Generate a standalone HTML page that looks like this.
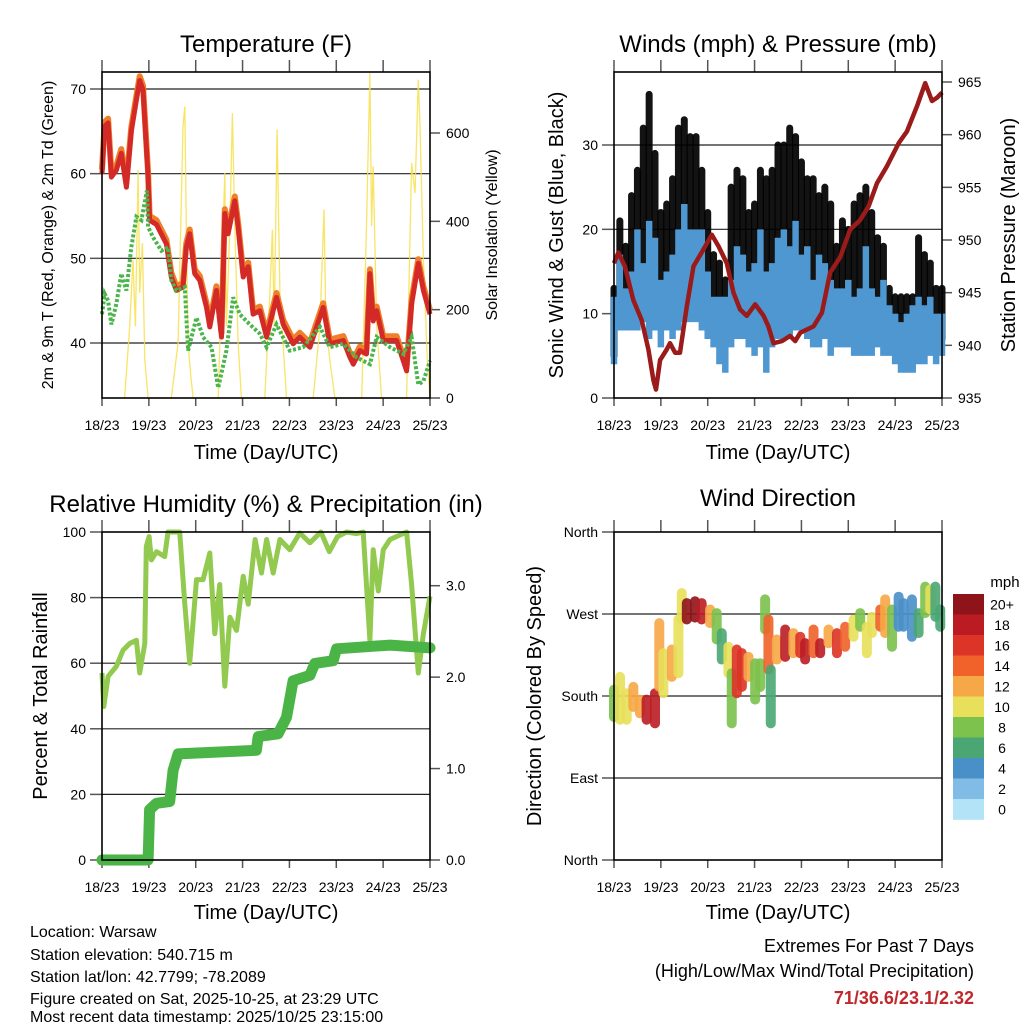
<!DOCTYPE html>
<html><head><meta charset="utf-8">
<style>
body{margin:0;background:#fff;width:1024px;height:1024px;overflow:hidden;font-family:"Liberation Sans",sans-serif}
svg text{font-family:"Liberation Sans",sans-serif;fill:#000}
</style></head>
<body>
<svg id="s" width="1024" height="1024" viewBox="0 0 1024 1024">
<g id="texts">
<text x="266" y="52" font-size="24" text-anchor="middle">Temperature (F)</text>
<text transform="translate(53,235) rotate(-90)" font-size="16" text-anchor="middle">2m &amp; 9m T (Red, Orange) &amp; 2m Td (Green)</text>
<text transform="translate(497,235) rotate(-90)" font-size="16" text-anchor="middle">Solar Insolation (Yellow)</text>
<text x="266" y="459" font-size="20" text-anchor="middle">Time (Day/UTC)</text>
<text x="778" y="52" font-size="24" text-anchor="middle">Winds (mph) &amp; Pressure (mb)</text>
<text transform="translate(563,235) rotate(-90)" font-size="20" text-anchor="middle">Sonic Wind &amp; Gust (Blue, Black)</text>
<text transform="translate(1015,235) rotate(-90)" font-size="20" text-anchor="middle">Station Pressure (Maroon)</text>
<text x="778" y="459" font-size="20" text-anchor="middle">Time (Day/UTC)</text>
<text x="266" y="512" font-size="24" text-anchor="middle">Relative Humidity (%) &amp; Precipitation (in)</text>
<text transform="translate(47,696) rotate(-90)" font-size="20" text-anchor="middle">Percent &amp; Total Rainfall</text>
<text x="266" y="919" font-size="20" text-anchor="middle">Time (Day/UTC)</text>
<text x="778" y="506" font-size="24" text-anchor="middle">Wind Direction</text>
<text transform="translate(541,696) rotate(-90)" font-size="20" text-anchor="middle">Direction (Colored By Speed)</text>
<text x="778" y="919" font-size="20" text-anchor="middle">Time (Day/UTC)</text>
<text x="1005" y="587" font-size="15" text-anchor="middle">mph</text>
<g font-size="16">
<text x="30" y="937">Location: Warsaw</text>
<text x="30" y="960">Station elevation: 540.715 m</text>
<text x="30" y="982">Station lat/lon: 42.7799; -78.2089</text>
<text x="30" y="1004">Figure created on Sat, 2025-10-25, at 23:29 UTC</text>
<text x="30" y="1022">Most recent data timestamp: 2025/10/25 23:15:00</text>
</g>
<g font-size="18" text-anchor="end">
<text x="974" y="952">Extremes For Past 7 Days</text>
<text x="974" y="977">(High/Low/Max Wind/Total Precipitation)</text>
<text x="974" y="1004" font-weight="bold" style="fill:#c0282d">71/36.6/23.1/2.32</text>
</g>
</g>
</svg>
<script>
// ---- data ----
const dayLabels=["18/23","19/23","20/23","21/23","22/23","23/23","24/23","25/23"];
const tempHours=[0,1.4,3.1,4.8,7.3,9.9,12.5,15,17.6,19.3,21,23.6,24.4,27.9,33,35.5,38.1,41.5,43.2,44.9,47.5,50.1,53.5,55.2,58.6,61.2,62.9,64.6,68,69.7,72.3,74.9,77.4,80.8,84.3,89.4,92.8,97.9,101.3,106.5,109.9,113.3,116.7,123.6,127,128.7,132.1,135.5,137.2,138.9,140.7,144.1,150.9,156,158.6,162,164.6,168];
const tempVals=[60,65.6,66,59.6,60.4,62.4,58.4,65,68.7,71,69.9,59.6,54.5,54,51.7,47.8,46.2,46.6,51.3,52.9,48.2,47.4,44.2,41.9,46.2,40.7,55.3,52.9,56.8,53.7,47.8,49,43.4,43.8,40.7,45.4,42.2,39.9,40.7,39.5,41.9,44.2,39.9,40.3,38.3,37.5,39.1,38.7,48.2,42.6,43.8,40.3,40.3,36.7,44.6,49.4,46.2,43.4];
const tdHours=[0,1.4,3.1,4.8,7.3,9.9,12.5,15,17.6,20.2,23,23.6,26.1,30.4,33.8,35.5,38.1,42.4,44.1,48.4,51.8,56.1,59.5,63.7,67.2,70.6,75.7,80.8,84.3,89.4,96.2,103,111.6,116.7,123.6,130.4,137.2,140.7,147.5,154.3,158.6,162,164.6,168];
const tdVals=[43.4,45.8,45,42.2,44.6,48.2,46.2,51.3,54.9,54.5,58,53.7,52.5,50.9,51.3,47.4,46.2,46.6,39.1,43,40.7,39.5,34.7,39.1,45.4,43.4,42.2,41.1,39.5,42.2,39.1,39.5,41.9,39.5,39.9,38.3,37.5,40.7,39.5,38.7,40.7,35.1,35.5,37.9];
const solarHours=[11.6,14.2,15.9,17.1,18.5,19.3,20.7,21.9,23.6, 35.5,39,41.5,42.4,43.2,44.1,45.5,46.7, 59.5,62.9,63.7,65.5,66.8,68,69.7,71.4, 83.4,86,87.3,88.2,89.7,91.1,94.5, 108.2,111.6,113.7,114.7,116.7,119.3, 133,135.5,137.2,138.1,138.9,140.7,143.2, 156,158.6,160.3,162,162.9,164.6,166.6,168];
const solarVals=[0,162,313,162,517,238,351,87,0, 0,125,615,660,389,125,49,0, 0,510,162,389,645,389,125,0, 0,238,381,162,608,238,0, 0,162,427,162,87,0, 0,389,736,389,525,162,0, 0,532,464,721,615,313,87,0];
const windHours=[0,3,6,9,12,15,18,21,24,27,30,33,36,39,42,45,48,51,54,57,60,63,66,69,72,75,78,81,84,87,90,93,96,99,102,105,108,111,114,117,120,123,126,129,132,135,138,141,144,147,150,153,156,159,162,165,168];
const windMax=[12,17,13,15,20,16,21,19,14,15,17,20,23,20,20,20,15,12,12,12,14,18,17,15,16,20,15,16,19,20,18,21,17,18,14,17,16,14,13,13,14,12,13,18,13,12,14,11,10,9,10,11,12,11,12,10,10];
const windMin=[4,8,8,8,8,9,7,8,6,8,7,8,9,9,9,8,7,6,4,3,6,7,7,6,5,6,3,6,7,7,7,8,8,7,6,6,7,5,6,6,6,5,5,5,5,6,5,5,4,3,3,3,4,4,5,4,5];
const gustMax=[13,21,18,24,27,32,36,29,22,23,26,32,33,31,31,27,22,17,16,14,25,27,26,22,23,27,26,27,30,30,32,31,28,26,26,24,25,23,18,21,20,23,24,25,22,19,18,13,12,12,12,12,19,17,16,13,13];
const gustMin=[5,11,12,12,14,15,14,12,12,12,12,15,16,17,17,14,12,9,9,10,11,12,12,10,11,12,11,12,14,14,13,14,13,12,12,11,12,11,10,11,11,10,10,11,10,10,10,9,7,7,7,7,8,9,9,8,7];
const presHours=[0,2.2,5.6,9.9,14.2,17.6,20.2,21.5,23.6,27,28.7,31.3,33.8,37.3,40.7,45.8,50.1,53.5,57.8,61.2,64.6,68,72.3,76.6,79.1,81.7,86,90.2,92.8,95.4,102.2,106.5,110.7,115.9,121,126.1,130.4,134.7,139.8,145.8,150,155.2,159.4,162.9,165.4,168];
const presVals=[947.8,948.8,947.5,944.3,942.4,939.6,936.7,935.8,938.6,939.6,940.2,939.3,939.3,943.7,947.5,949.1,950.5,949.4,947.8,945,943.4,942.8,943.9,942.8,941.8,940.2,940.4,940.9,940.4,941.2,941.8,943.1,946.9,948.4,951,951.9,953.2,955.4,957,959.2,960.3,962.7,964.9,963.2,963.5,964];
const rhHours=[0,0.9,3.1,7.3,10.8,14.2,17.6,19.3,21.9,22.7,24.1,25.3,27.9,32.1,33.8,39.8,42.4,44.9,46.7,48.4,51.8,55.2,57.8,60.3,62.9,65.5,68.9,72.3,74.9,78.4,81.7,84.3,87.7,91.1,96.2,101.3,106.5,112.1,116.4,120.6,125.3,130.4,133.8,137.2,138.9,141.5,144.1,147.5,156,158.6,162,164.6,168];
const rhVals=[57,46.8,56,59,64,66,67,57,66,95.6,98.6,91.5,94,92.5,100,100,78,60,73,85.5,85.5,93.6,69,84,53,74,70,86.5,78,97.7,87.5,97.7,87.5,97.7,94.6,99.7,96.7,100,94,98.6,100,99.5,100,67,94.6,82,94.6,97.7,100,84,57,69,80.4];
const precipHours=[0,23.6,24.4,27.9,34.7,36.4,39,79.1,80,90.2,94.5,97.9,106.5,109,118.4,120.1,147.5,168];
const precipVals=[0,0,0.55,0.62,0.64,0.98,1.16,1.2,1.35,1.38,1.56,1.96,2.02,2.15,2.18,2.31,2.35,2.32];
const dirHours=[0,3.1,6.5,9.9,13.3,16.7,21,23.2,25.3,29.6,33,34.7,37.3,41.5,44.9,49.2,52.6,55.2,58.6,60.3,62.9,65.5,68.9,72.3,74.9,77.4,79.1,80.3,83.4,87.7,91.9,95.4,97.9,102.2,105.6,109.9,114.2,118.4,122.7,126.1,129.5,132.1,136.4,138.9,142.4,145.8,148.3,152.6,156,159.4,162,164.6,167.1];
const dirLow=[157,154,154,168,161,154,150,190,183,201,205,264,264,266,264,260,242,220,205,150,183,190,201,176,190,253,209,150,220,223,227,227,220,227,227,238,227,234,245,256,227,249,256,249,234,256,256,245,249,271,275,267,256];
const dirHigh=[187,201,183,190,176,176,183,260,227,231,264,293,282,284,282,275,271,249,234,205,231,227,223,216,216,286,264,209,242,253,249,245,238,253,238,253,249,256,264,271,256,267,275,286,275,289,282,286,271,300,297,300,275];
const dirSpeed=[8,10,10,12,13,19,19,12,10,12,10,10,20,20,19,13,8,6,10,8,16,16,13,8,9,8,15,7,13,19,13,17,19,14,18,13,16,15,11,8,10,10,14,12,8,5,5,5,7,8,10,7,7];
const speedBins=["0","2","4","6","8","10","12","14","16","18","20+"];
const speedColors=["#b3e3f7","#80bce6","#4a90c8","#4aa774","#7cc24c","#e8e05a","#f7a846","#f0622a","#dc3426","#bb1c24","#8e1419"];
const tempTicks=[40,50,60,70], solarTicks=[0,200,400,600], windTicks=[0,10,20,30], presTicks=[935,940,945,950,955,960,965];
const rhTicks=[0,20,40,60,80,100], precipTicks=[0,1,2,3], dirTicks=[0,90,180,270,360], dirNames=["North","East","South","West","North"];

// ---- helpers ----
const NS="http://www.w3.org/2000/svg", S=document.getElementById('s');
function el(tag,attrs,parent){const e=document.createElementNS(NS,tag);for(const k in attrs)e.setAttribute(k,attrs[k]);(parent||S).appendChild(e);return e;}
function lin(d0,d1,r0,r1){return v=>r0+(v-d0)/(d1-d0)*(r1-r0);}
function path(xs,ys,xf,yf){return xs.map((h,i)=>(i?'L':'M')+xf(h).toFixed(1)+','+yf(ys[i]).toFixed(1)).join('');}
function txt(x,y,s,anchor,size,parent){const t=el('text',{x:x,y:y,'font-size':size||14,'text-anchor':anchor||'middle'},parent);t.textContent=s;return t;}

function frame(L,R,T,B,name,gridY,yf,ticks,labels,rightTicks,rf,rlabels){
  const g=el('g',{});
  
  
  const xf=lin(0,168,L,R);
  gridY.forEach(v=>{el('line',{x1:L,x2:R,y1:yf(v),y2:yf(v),stroke:'#222','stroke-width':1.2},g);});
  for(let d=0;d<8;d++){const x=xf(d*24);
    el('line',{x1:x,x2:x,y1:T-12,y2:T,stroke:'#555','stroke-width':1.5},g);
    el('line',{x1:x,x2:x,y1:B,y2:B+8,stroke:'#555','stroke-width':1.5},g);
    const t=txt(x,B+32,dayLabels[d],'middle',14,g);
    
    
  }
  ticks.forEach((v,i)=>{const y=yf(v);
    el('line',{x1:L-12,x2:L,y1:y,y2:y,stroke:'#555','stroke-width':1.5},g);
    const t=txt(L-16,y+5,labels[i],'end',14,g);
    
    
  });
  if(rightTicks) rightTicks.forEach((v,i)=>{const y=rf(v);
    el('line',{x1:R,x2:R+10,y1:y,y2:y,stroke:'#555','stroke-width':1.5},g);
    const t=txt(R+16,y+5,rlabels[i],'start',14,g);
    
    
  });
  return g;
}
function border(L,R,T,B){const r=el('rect',{x:L,y:T,width:R-L,height:B-T,fill:'none',stroke:'#000','stroke-width':1.6});
  
  }

// ---- Panel 1: temperature ----
(function(){
  const L=102,R=430,T=72,B=398;
  const xf=lin(0,168,L,R), yf=lin(40,70,343,89), sf=lin(0,600,B,133);
  frame(L,R,T,B,'temperature',tempTicks,yf,tempTicks,tempTicks.map(String),solarTicks,sf,solarTicks.map(String));
  const sol=el('path',{d:path(solarHours,solarVals,xf,sf),fill:'none',stroke:'#f7df4a','stroke-width':1.3,opacity:0.85});
  
  
  const o=el('path',{d:path(tempHours,tempVals.map(v=>v+0.5),xf,yf),fill:'none',stroke:'#f07f2a','stroke-width':6,'stroke-linejoin':'round'});
  
  
  const r=el('path',{d:path(tempHours,tempVals,xf,yf),fill:'none',stroke:'#d42a27','stroke-width':5,'stroke-linejoin':'round'});
  
  
  const g=el('path',{d:path(tdHours,tdVals,xf,yf),fill:'none',stroke:'#4ab54a','stroke-width':4,'stroke-dasharray':'3 2'});
  
  
  border(L,R,T,B);
})();

// ---- Panel 2: winds ----
(function(){
  const L=614,R=942,T=72,B=398;
  const xf=lin(0,168,L,R), yf=lin(0,30,B,145), pf=lin(935,965,B,82);
  frame(L,R,T,B,'winds',[10,20,30],yf,windTicks,windTicks.map(String),presTicks,pf,presTicks.map(String));
  windHours.forEach((h,i)=>{
    const x=xf(h);
    const l=el('line',{x1:x,x2:x,y1:yf(gustMin[i]),y2:yf(gustMax[i]),stroke:'#000','stroke-width':7,'stroke-linecap':'round',opacity:0.92});
    
    
  });
  windHours.forEach((h,i)=>{
    const x=xf(h);
    const l=el('line',{x1:x,x2:x,y1:yf(windMin[i]),y2:yf(windMax[i]),stroke:'#4f97d1','stroke-width':6.5});
    
    
  });
  const p=el('path',{d:path(presHours,presVals,xf,pf),fill:'none',stroke:'#9b1a1a','stroke-width':4.5,'stroke-linejoin':'round'});
  
  
  border(L,R,T,B);
})();

// ---- Panel 3: humidity & precip ----
(function(){
  const L=102,R=430,T=532,B=860;
  const xf=lin(0,168,L,R), yf=lin(0,100,B,T), pf=lin(0,3,B,585.7);
  frame(L,R,T,B,'humidity',[20,40,60,80],yf,rhTicks,rhTicks.map(String),precipTicks,pf,precipTicks.map(v=>v.toFixed(1)));
  const rh=el('path',{d:path(rhHours,rhVals,xf,yf),fill:'none',stroke:'#92c94f','stroke-width':5,'stroke-linejoin':'round'});
  
  
  const pr=el('path',{d:path(precipHours,precipVals,xf,pf),fill:'none',stroke:'#4ab546','stroke-width':11,'stroke-linejoin':'round','stroke-linecap':'round'});
  
  
  border(L,R,T,B);
})();

// ---- Panel 4: wind direction ----
(function(){
  const L=614,R=942,T=532,B=860;
  const xf=lin(0,168,L,R), yf=lin(0,360,B,T);
  frame(L,R,T,B,'wind-direction',[90,180,270],yf,dirTicks,dirNames);
  function col(s){return speedColors[Math.min(10,Math.floor(s/2))];}
  dirHours.forEach((h,i)=>{
    const x=xf(h);
    const l=el('line',{x1:x,x2:x,y1:yf(dirLow[i]),y2:yf(dirHigh[i]),stroke:col(dirSpeed[i]),'stroke-width':10,'stroke-linecap':'round',opacity:0.9});
    
    
  });
  border(L,R,T,B);
  const cb=el('g',{});
  
  
  const bh=20.5, top=594;
  for(let k=0;k<11;k++){
    const idx=10-k;
    el('rect',{x:953,y:top+k*bh,width:31,height:bh+0.3,fill:speedColors[idx]},cb);
    txt(1002,top+k*bh+bh/2+5,speedBins[idx],'middle',14,cb);
  }
})();
</script>
</body></html>
